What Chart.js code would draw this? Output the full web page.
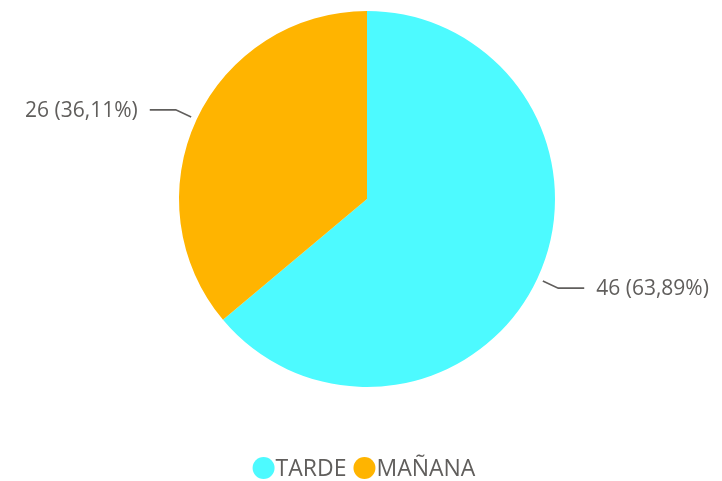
<!DOCTYPE html>
<html>
<head>
<meta charset="utf-8">
<script src="https://cdn.jsdelivr.net/npm/chart.js@4/dist/chart.umd.min.js"></script>
<style>
html,body{margin:0;padding:0;background:#fff;}
#wrap{position:relative;width:722px;height:481px;}
</style>
</head>
<body>
<div id="wrap"><canvas id="c" width="722" height="481"></canvas></div>
<script>
const categories = ['TARDE', 'MAÑANA'];
const values = [46, 26];
const percentLabels = ['63,89%', '36,11%'];
const colors = ['#4DFAFF', '#FFB400'];

const FONT = "'Segoe UI', 'Open Sans', sans-serif";
const TEXT_COLOR = '#605E5C';

const leaderPlugin = {
  id: 'leaderLabels',
  afterDatasetsDraw(chart) {
    const ctx = chart.ctx;
    const meta = chart.getDatasetMeta(0);
    ctx.save();
    ctx.font = '21px ' + FONT;
    ctx.fillStyle = TEXT_COLOR;
    ctx.strokeStyle = TEXT_COLOR;
    ctx.lineWidth = 1.6;
    ctx.textBaseline = 'middle';
    meta.data.forEach((arc, i) => {
      const p = arc.getProps(['x', 'y', 'startAngle', 'endAngle', 'outerRadius'], true);
      const mid = (p.startAngle + p.endAngle) / 2;
      const c = Math.cos(mid), s = Math.sin(mid);
      const x0 = p.x + c * (p.outerRadius + 6), y0 = p.y + s * (p.outerRadius + 6);
      const x1 = p.x + c * (p.outerRadius + 23), y1 = p.y + s * (p.outerRadius + 23);
      const dir = c >= 0 ? 1 : -1;
      const x2 = x1 + dir * 26;
      ctx.beginPath();
      ctx.moveTo(x0, y0);
      ctx.lineTo(x1, y1);
      ctx.lineTo(x2, y1);
      ctx.stroke();
      const txt = values[i] + ' (' + percentLabels[i] + ')';
      ctx.textAlign = dir > 0 ? 'left' : 'right';
      ctx.fillText(txt, x2 + dir * 12, y1 + 1);
    });
    ctx.restore();
  },
  afterDraw(chart) {
    const ctx = chart.ctx;
    ctx.save();
    ctx.font = '23px ' + FONT;
    ctx.textBaseline = 'middle';
    ctx.textAlign = 'left';
    const r = 11, gapText = 1, gapItem = 7;
    const widths = categories.map(l => 2 * r + gapText + ctx.measureText(l).width);
    const total = widths.reduce((a, b) => a + b, 0) + gapItem * (categories.length - 1);
    let x = 364 - total / 2;
    const y = 469;
    categories.forEach((l, i) => {
      ctx.fillStyle = colors[i];
      ctx.beginPath();
      ctx.arc(x + r, y - 1, r, 0, Math.PI * 2);
      ctx.fill();
      ctx.fillStyle = TEXT_COLOR;
      ctx.fillText(l, x + 2 * r + gapText, y);
      x += widths[i] + gapItem;
    });
    ctx.restore();
  }
};

new Chart(document.getElementById('c'), {
  type: 'pie',
  data: {
    labels: categories,
    datasets: [{
      data: values,
      backgroundColor: colors,
      borderWidth: 0,
      hoverOffset: 0
    }]
  },
  options: {
    responsive: false,
    animation: false,
    layout: { padding: { top: 11, bottom: 94, left: 12, right: 0 } },
    plugins: {
      legend: { display: false },
      tooltip: { enabled: false }
    }
  },
  plugins: [leaderPlugin]
});
</script>
</body>
</html>
